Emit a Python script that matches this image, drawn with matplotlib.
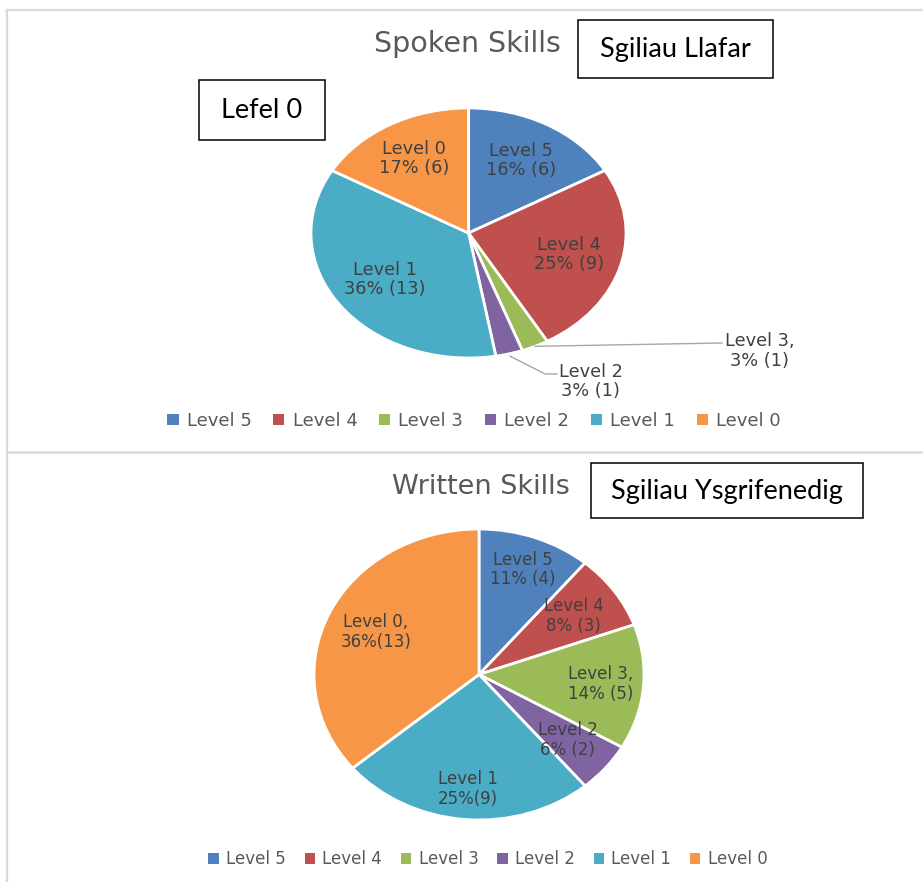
import matplotlib

matplotlib.use("Agg")
import matplotlib.pyplot as plt
import numpy as np
from matplotlib.patches import Rectangle

LEVELS = ["Level 5", "Level 4", "Level 3", "Level 2", "Level 1", "Level 0"]
COLORS = ["#4F81BD", "#C0504D", "#9BBB59", "#8064A2", "#4BACC6", "#F79646"]

SPOKEN = [6, 9, 1, 1, 13, 6]
SPOKEN_LABELS = ["Level 5\n16% (6)", "Level 4\n25% (9)", "Level 3,\n3% (1)",
                 "Level 2\n3% (1)", "Level 1\n36% (13)", "Level 0\n17% (6)"]
WRITTEN = [4, 3, 5, 2, 9, 13]
WRITTEN_LABELS = ["Level 5\n11% (4)", "Level 4\n8% (3)", "Level 3,\n14% (5)",
                  "Level 2\n6% (2)", "Level 1\n25%(9)", "Level 0,\n36%(13)"]

W, H = 923, 882
LABEL_GREY = "#404040"
TEXT_GREY = "#595959"
LINE_GREY = "#D9D9D9"


def px_rect(left, top, right, bottom):
    # pixel box (origin top-left) -> figure fraction rect
    return [left / W, (H - bottom) / H, (right - left) / W, (bottom - top) / H]


def draw_pie(ax, values, labels, dist, fs):
    wedges, _ = ax.pie(values, colors=COLORS, startangle=90, counterclock=False,
                       wedgeprops=dict(edgecolor="white", linewidth=2))
    ax.set_aspect("auto")
    ax.set_xlim(-1, 1)
    ax.set_ylim(-1, 1)
    mids = []
    for w, lab, d in zip(wedges, labels, dist):
        mid = np.deg2rad((w.theta1 + w.theta2) / 2)
        mids.append(mid)
        if d is None:
            continue
        ax.text(d * np.cos(mid), d * np.sin(mid), lab, ha="center", va="center",
                multialignment="center", fontsize=fs, color=LABEL_GREY, linespacing=1.1)
    return wedges, mids


def add_legend(wedges, x, y, fs, colsp):
    leg = fig.legend(wedges, LEVELS, loc="center", bbox_to_anchor=(x / W, 1 - y / H), ncol=6,
                     frameon=False, fontsize=fs, labelcolor=TEXT_GREY, handlelength=0.62,
                     handleheight=0.62, handletextpad=0.45, columnspacing=colsp)
    for h in leg.legend_handles:
        h.set_linewidth(0)
    return leg


fig = plt.figure(figsize=(W / 100, H / 100), dpi=100)

# --- top: spoken skills ---
ax1 = fig.add_axes(px_rect(311, 108, 626, 358))
wedges, mids = draw_pie(ax1, SPOKEN, SPOKEN_LABELS, [0.67, 0.66, None, None, 0.65, 0.69], 12.8)

# outside labels with leader lines (level 3, level 2)
m3 = mids[2]
ax1.plot([np.cos(m3), 1.61], [np.sin(m3), -0.88], color="#A6A6A6", lw=1, clip_on=False)
ax1.text(1.85, -0.945, SPOKEN_LABELS[2], ha="center", va="center", multialignment="center",
         fontsize=12.8, color=LABEL_GREY, linespacing=1.1)
m2 = mids[3]
ax1.plot([1.02 * np.cos(m2), 0.486, 0.562], [1.02 * np.sin(m2), -1.128, -1.128],
         color="#A6A6A6", lw=1, clip_on=False)
ax1.text(0.775, -1.19, SPOKEN_LABELS[3], ha="center", va="center", multialignment="center",
         fontsize=12.8, color=LABEL_GREY, linespacing=1.1)

add_legend(wedges, 474, 421, 13, 1.2)

# --- bottom: written skills ---
ax2 = fig.add_axes(px_rect(314, 529, 644, 820))
wedges2, _ = draw_pie(ax2, WRITTEN, WRITTEN_LABELS, [0.77, 0.70, 0.74, 0.70, 0.79, 0.69], 12)

add_legend(wedges2, 488, 859, 12, 1.12)

# --- overlay in pixel coords: frame lines, titles, callout boxes ---
ov = fig.add_axes([0, 0, 1, 1], zorder=10)
ov.set_xlim(0, W)
ov.set_ylim(H, 0)
ov.axis("off")
ov.patch.set_alpha(0)

ov.plot([7, 7], [10, H], color=LINE_GREY, lw=1.6)
ov.plot([7, W], [10, 10], color=LINE_GREY, lw=1.6)
ov.plot([7, W], [452, 452], color=LINE_GREY, lw=1.8)

ov.text(467.5, 44, "Spoken Skills", ha="center", va="center", fontsize=20.5, color=TEXT_GREY)
ov.text(480.5, 487, "Written Skills", ha="center", va="center", fontsize=19.5, color=TEXT_GREY)

boxes = [
    ((578, 20, 773, 78), "Sgiliau Llafar"),
    ((199, 80, 325, 140), "Lefel 0"),
    ((591, 463, 863, 518), "Sgiliau Ysgrifenedig"),
]
for (l, t, r, b), txt in boxes:
    ov.add_patch(Rectangle((l, t), r - l, b - t, facecolor="white", edgecolor="black", lw=1.1))
    ov.text((l + r) / 2, (t + b) / 2 + 1, txt, ha="center", va="center", fontsize=19.5,
            family="Lato", color="black")

fig.savefig("out.png", dpi=100)
